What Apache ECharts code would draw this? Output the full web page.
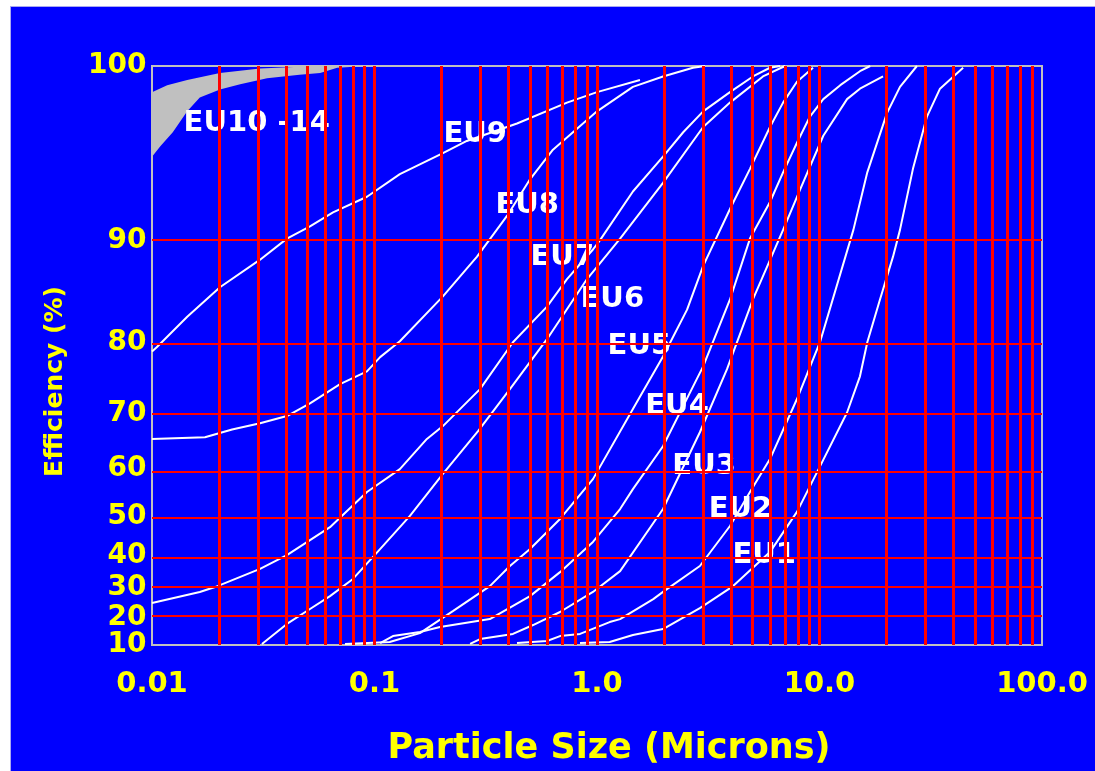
<!DOCTYPE html>
<html>
<head>
<meta charset="utf-8">
<title>Filter efficiency by class</title>
<script src="https://cdn.jsdelivr.net/npm/echarts@6/dist/echarts.min.js"></script>
<style>
  html, body { margin: 0; padding: 0; background: #ffffff; width: 1095px; height: 771px; overflow: hidden; }
  #chart { position: absolute; left: 10px; top: 6px; width: 1085px; height: 765px;
           box-sizing: border-box; border-top: 1px solid #a9a9f2; border-left: 1px solid #a9a9f2; }
</style>
</head>
<body>
<div id="chart"></div>
<script>
// Efficiency axis: tick values and where each sits along the axis (0 = bottom, 1 = top)
const EFF_TICKS = [10, 20, 30, 40, 50, 60, 70, 80, 90, 100];
const EFF_SCALE = [0, 0.0466, 0.0984, 0.1544, 0.2217, 0.3037, 0.4003, 0.5229, 0.6989, 1];

// Particle size axis (log), decade labels
const SIZE_DECADES = [0.01, 0.1, 1, 10, 100];
const SIZE_LABELS = ['0.01', '0.1', '1.0', '10.0', '100.0'];
const GRID_STEPS = [1, 2, 3, 4, 5, 6, 7, 8, 9];

// [particle size (microns), efficiency (%)]
const EU10_14_UPPER = [[0.01, 98.5], [0.0117, 98.9], [0.0144, 99.2], [0.0202, 99.6], [0.0306, 99.85], [0.046, 99.95], [0.065, 100]];
const EU10_14_LOWER = [[0.01, 94.8], [0.0109, 95.4], [0.0124, 96.2], [0.0144, 97.4], [0.0164, 98.2], [0.0202, 98.65],
                       [0.0249, 98.95], [0.0329, 99.3], [0.046, 99.5], [0.057, 99.6], [0.068, 99.9], [0.0925, 100]];

const EU9 = [[0.01, 78.7], [0.0105, 79.3], [0.0144, 82.5], [0.0202, 85.4], [0.0306, 88.1], [0.0404, 90.1], [0.0513, 90.8],
             [0.0651, 91.6], [0.0925, 92.5], [0.130, 93.8], [0.203, 95.0], [0.260, 95.7], [0.437, 96.7], [0.733, 97.9],
             [1.0, 98.5], [1.56, 99.2]];
const EU8 = [[0.01, 65.4], [0.0173, 65.7], [0.0229, 67.1], [0.0306, 68.2], [0.0404, 69.5], [0.0513, 71.4], [0.070, 74.1],
             [0.0925, 75.9], [0.106, 77.9], [0.130, 80.1], [0.203, 84.5], [0.289, 88.4], [0.394, 91.4], [0.5, 93.5],
             [0.634, 95.2], [0.813, 96.4], [1.0, 97.4], [1.45, 98.8], [1.98, 99.4], [2.7, 99.9], [3.06, 100]];
const EU7 = [[0.01, 25.0], [0.0164, 28.7], [0.0192, 30.3], [0.0306, 35.9], [0.0404, 40.1], [0.0631, 47.3], [0.0925, 55.2],
             [0.130, 60.0], [0.172, 65.4], [0.203, 67.7], [0.298, 73.4], [0.419, 80.0], [0.596, 83.5], [0.733, 86.2],
             [0.959, 89.1], [1.03, 90.0], [1.45, 92.8], [1.98, 94.8], [2.44, 96.2], [3.0, 97.4], [3.96, 98.5],
             [5.02, 99.4], [5.99, 99.9], [6.65, 100]];
const EU6 = [[0.0312, 10.4], [0.0404, 17.8], [0.0513, 23.0], [0.0631, 27.3], [0.080, 32.8], [0.103, 40.9], [0.144, 50.1],
             [0.203, 59.0], [0.292, 66.8], [0.406, 73.4], [0.596, 80.3], [0.902, 86.2], [1.27, 90.1], [1.98, 93.3],
             [3.0, 96.5], [3.96, 97.9], [5.57, 99.4], [7.0, 100]];
const EU5 = [[0.0737, 10.4], [0.117, 11.1], [0.160, 14.4], [0.225, 22.3], [0.330, 30.6], [0.406, 36.8], [0.5, 41.7],
             [0.682, 49.4], [0.959, 57.9], [1.45, 70.6], [1.98, 78.0], [2.54, 83.2], [3.0, 87.5], [3.96, 91.8],
             [4.87, 94.1], [5.99, 96.5], [6.86, 97.9], [7.92, 99.1], [9.35, 99.9]];
const EU4 = [[0.106, 10.7], [0.121, 13.3], [0.160, 14.8], [0.197, 16.7], [0.330, 19.6], [0.5, 27.3], [0.682, 34.9],
             [0.959, 43.5], [1.27, 51.6], [1.45, 55.8], [1.98, 64.1], [3.0, 76.6], [3.96, 84.2], [4.87, 90.1],
             [5.99, 92.2], [6.86, 93.9], [7.92, 95.6], [9.06, 97.1], [10.4, 98.1], [12.4, 98.9], [15.2, 99.7], [16.9, 100]];
const EU3 = [[0.269, 10.4], [0.298, 12.2], [0.419, 14.1], [0.516, 17.4], [0.682, 22.0], [0.959, 28.7], [1.27, 35.2],
             [1.98, 51.6], [2.9, 66.6], [3.84, 76.2], [5.02, 84.2], [6.86, 90.6], [8.17, 92.9], [10.4, 96.0],
             [13.3, 98.1], [15.2, 98.7], [19.3, 99.4]];
const EU2 = [[0.437, 10.7], [0.596, 11.5], [0.682, 13.3], [0.839, 14.1], [1.14, 18.5], [1.27, 19.6], [1.79, 26.3],
             [1.98, 28.7], [2.9, 36.8], [3.96, 47.6], [4.87, 55.2], [5.99, 61.8], [7.92, 72.0], [10.05, 80.0],
             [14.2, 90.6], [16.4, 93.9], [20.1, 97.3], [23.0, 98.8], [27.4, 100]];
const EU1 = [[0.839, 10.7], [1.14, 11.1], [1.45, 13.7], [1.98, 15.9], [2.9, 23.3], [4.09, 30.6], [5.99, 40.9],
             [7.92, 51.0], [10.05, 60.5], [13.3, 70.1], [15.2, 75.2], [16.4, 80.0], [18.7, 84.2], [21.4, 88.4],
             [23.0, 90.6], [26.3, 94.1], [30.4, 97.1], [34.8, 98.7], [44.2, 99.9]];

const CURVES = [EU9, EU8, EU7, EU6, EU5, EU4, EU3, EU2, EU1];
const CURVE_NAMES = ['EU9', 'EU8', 'EU7', 'EU6', 'EU5', 'EU4', 'EU3', 'EU2', 'EU1'];

// Class captions, anchored at their left-middle point [size, efficiency]
const LABEL_NAMES = ['EU10 -14', 'EU9', 'EU8', 'EU7', 'EU6', 'EU5', 'EU4', 'EU3', 'EU2', 'EU1'];
const LABEL_SIZES = [0.0138, 0.203, 0.348, 0.5, 0.839, 1.11, 1.64, 2.17, 3.16, 4.04];
const LABEL_EFFS = [96.7, 96.1, 92.0, 88.3, 84.2, 79.4, 70.9, 60.4, 51.6, 40.1];

// Piecewise efficiency scale
function toPos(e) {
  for (let i = 0; i < EFF_TICKS.length - 1; i++) {
    if (e <= EFF_TICKS[i + 1]) {
      const t = (e - EFF_TICKS[i]) / (EFF_TICKS[i + 1] - EFF_TICKS[i]);
      return EFF_SCALE[i] + t * (EFF_SCALE[i + 1] - EFF_SCALE[i]);
    }
  }
  return 1;
}
const toPoint = d => [d[0], toPos(d[1])];

const YELLOW = '#ffff00';
const RED = '#ff0000';
const FONT = 'DejaVu Sans';

// Red grid: every 1..9 step of each decade, plus the efficiency ticks
const gridLines = [];
SIZE_DECADES.slice(0, 4).forEach(dec => {
  GRID_STEPS.forEach(m => {
    const v = dec * m;
    if (v > SIZE_DECADES[0]) gridLines.push({ xAxis: v, lineStyle: { width: 3 } });
  });
});
EFF_TICKS.slice(1, -1).forEach(e => gridLines.push({ yAxis: toPos(e), lineStyle: { width: 2 } }));

const series = [
  {
    name: 'EU10 -14',
    type: 'custom',
    z: 0,
    silent: true,
    data: [[0.01, 1]],
    renderItem: (params, api) => {
      const pts = EU10_14_UPPER.map(d => api.coord(toPoint(d)))
        .concat(EU10_14_LOWER.slice().reverse().map(d => api.coord(toPoint(d))));
      return { type: 'polygon', shape: { points: pts }, style: { fill: '#c0c0c0' } };
    }
  },
  {
    name: 'grid',
    type: 'line',
    z: 1,
    data: [],
    markLine: {
      silent: true,
      symbol: ['none', 'none'],
      label: { show: false },
      animation: false,
      lineStyle: { color: RED, type: 'solid', opacity: 1 },
      emphasis: { disabled: true },
      data: gridLines
    }
  }
];

CURVES.forEach((c, i) => {
  series.push({
    name: CURVE_NAMES[i],
    type: 'line',
    z: 3,
    data: c.map(toPoint),
    symbol: 'none',
    smooth: false,
    lineStyle: { color: '#ffffff', width: 2 }
  });
});

series.push({
  name: 'captions',
  type: 'scatter',
  z: 4,
  silent: true,
  symbolSize: 1,
  itemStyle: { color: 'rgba(0,0,0,0)', opacity: 1 },
  data: LABEL_NAMES.map((n, i) => ({ name: n, value: [LABEL_SIZES[i], toPos(LABEL_EFFS[i])] })),
  label: {
    show: true,
    position: 'right',
    distance: 0,
    formatter: '{b}',
    color: '#ffffff',
    opacity: 1,
    fontFamily: FONT,
    fontWeight: 'bold',
    fontSize: 29
  }
});

// Efficiency tick labels, set against the left edge of the plot at each tick
series.push({
  name: 'efficiency ticks',
  type: 'scatter',
  z: 4,
  silent: true,
  symbolSize: 1,
  itemStyle: { color: 'rgba(0,0,0,0)', opacity: 1 },
  data: EFF_TICKS.map(e => ({ name: String(e), value: [SIZE_DECADES[0], toPos(e)] })),
  label: {
    show: true,
    position: 'left',
    distance: 5,
    formatter: '{b}',
    color: YELLOW,
    opacity: 1,
    fontFamily: FONT,
    fontWeight: 'bold',
    fontSize: 28
  }
});

const chart = echarts.init(document.getElementById('chart'), null, { renderer: 'canvas' });
chart.setOption({
  animation: false,
  backgroundColor: '#0000fe',
  grid: {
    left: 141, top: 59, right: 53, bottom: 126,
    show: true, borderColor: '#c0c0c0', borderWidth: 2, backgroundColor: 'transparent',
    containLabel: false, outerBoundsMode: 'none'
  },
  xAxis: {
    type: 'log',
    logBase: 10,
    min: SIZE_DECADES[0],
    max: SIZE_DECADES[SIZE_DECADES.length - 1],
    name: 'Particle Size (Microns)',
    nameLocation: 'middle',
    nameGap: 86,
    nameTextStyle: { color: YELLOW, fontFamily: FONT, fontWeight: 'bold', fontSize: 35, padding: [0, 0, 0, 24] },
    axisLine: { show: false },
    axisTick: { show: false },
    splitLine: { show: false },
    minorSplitLine: { show: false },
    axisLabel: {
      color: YELLOW, fontFamily: FONT, fontWeight: 'bold', fontSize: 29, margin: 25,
      formatter: v => {
        let best = 0;
        SIZE_DECADES.forEach((d, i) => {
          if (Math.abs(Math.log10(d) - Math.log10(v)) < Math.abs(Math.log10(SIZE_DECADES[best]) - Math.log10(v))) best = i;
        });
        return SIZE_LABELS[best];
      }
    }
  },
  yAxis: {
    type: 'value',
    min: 0,
    max: 1,
    name: 'Efficiency (%)',
    nameLocation: 'middle',
    nameRotate: 90,
    nameGap: 84,
    nameTextStyle: { color: YELLOW, fontFamily: FONT, fontWeight: 'bold', fontSize: 25, padding: [0, 52, 0, 0] },
    axisLine: { show: false },
    axisTick: { show: false },
    splitLine: { show: false },
    axisLabel: { show: false }
  },
  series: series
});
</script>
</body>
</html>
